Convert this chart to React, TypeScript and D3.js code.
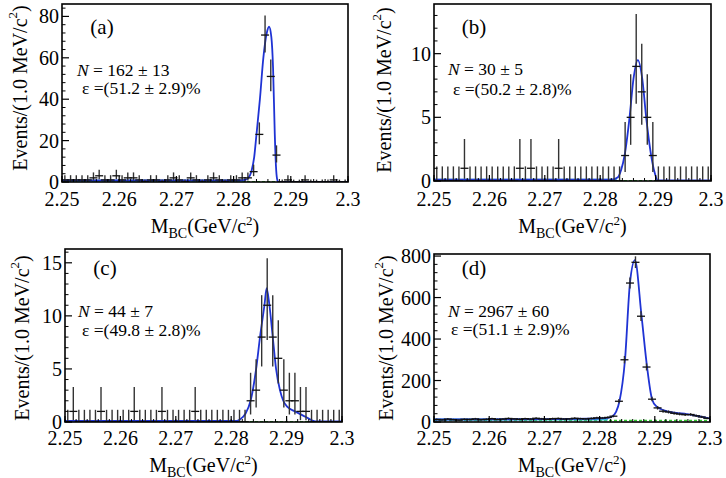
import React from "react";
import * as d3 from "d3";

// ---------------- data ----------------
const binStart = 2.25;
const binWidth = 0.001;
const xDomain = [2.25, 2.3];
const xTickValues = [2.25, 2.26, 2.27, 2.28, 2.29, 2.3];
const xTickLabels = ["2.25", "2.26", "2.27", "2.28", "2.29", "2.3"];

const countsA = [1, 1, 1, 1, 1, 2, 3, 1, 1, 3, 1, 2, 2, 1, 0, 1, 1, 0, 1, 2, 1, 0, 2, 1, 0, 1, 2, 1, 0, 1, 1, 2, 2, 5, 23, 71, 51, 13, 0, 1, 0, 0, 1, 0, 0, 0, 0, 1, 0, 0];
const countsB = [0, 0, 0, 0, 0, 1, 0, 0, 0, 0, 0, 0, 0, 0, 0, 1, 0, 1, 0, 0, 0, 0, 1, 0, 0, 0, 0, 0, 0, 0, 0, 0, 0, 0, 2, 5, 9, 7, 5, 2, 0, 0, 0, 0, 0, 0, 0, 0, 0, 0];
const countsC = [0, 1, 0, 0, 0, 0, 1, 0, 0, 0, 0, 0, 1, 0, 0, 0, 0, 1, 0, 0, 0, 0, 0, 1, 0, 0, 0, 0, 0, 0, 0, 0, 0, 2, 3, 8, 11, 8, 6, 3, 2, 2, 1, 1, 0, 0, 0, 0, 0, 0];
const countsD = [12, 10, 14, 11, 9, 13, 12, 15, 11, 13, 16, 12, 14, 17, 15, 13, 16, 14, 18, 15, 13, 16, 17, 14, 15, 18, 16, 15, 17, 20, 19, 22, 28, 100, 300, 670, 770, 510, 265, 110, 68, 52, 48, 42, 38, 35, 36, 30, 24, 18];

// fit curves
const fitAx = [2.25, 2.281, 2.282, 2.2825, 2.2831, 2.2836, 2.284, 2.2846, 2.2852, 2.2858, 2.2862, 2.2866, 2.2869, 2.2872, 2.2874, 2.2876, 2.2878, 2.3];
const fitAy = [0.8, 0.8, 1.0, 1.8, 5, 12, 23, 40, 60, 72, 75, 70, 55, 23, 8, 1.5, 0, 0];
const fitBx = [2.25, 2.282, 2.2832, 2.2838, 2.2844, 2.2853, 2.286, 2.2868, 2.2876, 2.2883, 2.2892, 2.2898, 2.2904, 2.3];
const fitBy = [0.1, 0.1, 0.3, 0.9, 2, 5, 8, 9.5, 8, 5, 2, 0.7, 0.05, 0.05];
const fitCx = [2.25, 2.281, 2.2816, 2.2826, 2.2835, 2.2845, 2.2852, 2.286, 2.2864, 2.2869, 2.2875, 2.2881, 2.2888, 2.2894, 2.2902, 2.2915, 2.2934, 2.2952, 2.3];
const fitCy = [0.1, 0.1, 0.25, 0.8, 2, 5, 8, 11, 12.6, 11, 8, 5, 3, 2, 1.4, 1.0, 0.5, 0.05, 0.05];
const fitDx = [2.25, 2.26, 2.27, 2.278, 2.2815, 2.2822, 2.283, 2.2836, 2.2846, 2.2855, 2.2864, 2.2876, 2.2886, 2.2895, 2.2903, 2.2918, 2.2936, 2.2958, 2.2976, 2.2994, 2.3];
const fitDy = [12, 13, 14, 16, 20, 25, 50, 100, 300, 670, 780, 510, 265, 110, 75, 55, 45, 38, 30, 20, 16];

const cyanLevels = [0.6, 0.1, 0.1, 12];
const cyanEnds = [2.2817, 2.283, 2.2815, 2.2815];
const greenLevels = [0.2, 0.03, 0.03, 7];

const panelLabels = ["(a)", "(b)", "(c)", "(d)"];
const yieldTexts = ["162 \u00b1 13", "30 \u00b1 5", "44 \u00b1 7", "2967 \u00b1 60"];
const effTexts = ["51.2 \u00b1 2.9", "50.2 \u00b1 2.8", "49.8 \u00b1 2.8", "51.1 \u00b1 2.9"];
const yTicksA = [0, 20, 40, 60, 80];
const yTicksB = [0, 5, 10];
const yTicksC = [0, 5, 10, 15];
const yTicksD = [0, 200, 400, 600, 800];
const yMaxes = [86, 13.9, 16.3, 810];
const yMinorSteps = [4, 1, 1, 40];

// RooFit-style Poisson 68% intervals for small counts
const poissonLo = [0, 0.173, 0.708, 1.367, 2.086, 2.84, 3.62, 4.419, 5.232, 6.057, 6.891, 7.734, 8.585, 9.441];
const poissonHi = [1.148, 3.3, 4.638, 5.918, 7.163, 8.382, 9.584, 10.77, 11.95, 13.11, 14.27, 15.42, 16.56, 17.7];

// ---------------- layout ----------------
const layouts = [
  { left: 62, right: 348, top: 4, bottom: 182, ytx: 20, yty: 88, xtb: 233, tickb: 206, labX: 102, labY: 34, nX: 77, nY: 76, eX: 82, eY: 94 },
  { left: 434, right: 711, top: 4, bottom: 181, ytx: 384, yty: 90, xtb: 233, tickb: 206, labX: 474, labY: 34, nX: 448, nY: 75, eX: 453, eY: 95 },
  { left: 65, right: 342, top: 249, bottom: 422, ytx: 22, yty: 338, xtb: 472, tickb: 445, labX: 105, labY: 275, nX: 78, nY: 317, eX: 82, eY: 336 },
  { left: 434, right: 710, top: 254, bottom: 422, ytx: 386, yty: 338, xtb: 472, tickb: 445, labX: 474, labY: 275, nX: 448, nY: 317, eX: 451, eY: 335 },
];

const FONT = "'Liberation Serif', 'Times New Roman', serif";

const panels = [
  { counts: countsA, fx: fitAx, fy: fitAy, yTicks: yTicksA },
  { counts: countsB, fx: fitBx, fy: fitBy, yTicks: yTicksB },
  { counts: countsC, fx: fitCx, fy: fitCy, yTicks: yTicksC },
  { counts: countsD, fx: fitDx, fy: fitDy, yTicks: yTicksD },
];

function errBand(n: number): [number, number] {
  if (n < poissonLo.length) return [poissonLo[n], poissonHi[n]];
  const s = Math.sqrt(n);
  return [n - s, n + s + 1];
}

function Panel({ i }: { i: number }) {
  const L = layouts[i];
  const P = panels[i];
  const yMax = yMaxes[i];
  const x = d3.scaleLinear().domain(xDomain).range([L.left, L.right]);
  const y = d3.scaleLinear().domain([0, yMax]).range([L.bottom, L.top]);
  const line = d3
    .line<[number, number]>()
    .x((d) => x(d[0]))
    .y((d) => y(d[1]))
    .curve(d3.curveMonotoneX);
  const fitPts: [number, number][] = P.fx.map((v, k) => [v, P.fy[k]]);
  const greenPts: [number, number][] = [
    [xDomain[0], greenLevels[i]],
    [xDomain[1], greenLevels[i]],
  ];
  const cyanPts: [number, number][] = [
    [xDomain[0], cyanLevels[i]],
    [cyanEnds[i], cyanLevels[i]],
  ];
  const yMinor = d3
    .range(0, yMax, yMinorSteps[i])
    .filter((v) => !P.yTicks.some((t) => Math.abs(t - v) < 1e-9));
  const xMinor = d3.range(0, 26).map((k) => 2.25 + k * 0.002);
  const clipId = `clip-${i}`;
  const cx = (L.left + L.right) / 2;

  return (
    <g>
      <defs>
        <clipPath id={clipId}>
          <rect x={L.left} y={L.top} width={L.right - L.left} height={L.bottom - L.top} />
        </clipPath>
      </defs>
      <g clipPath={`url(#${clipId})`}>
        <path d={line(greenPts) || ""} fill="none" stroke="#2ecc2e" strokeWidth={1.4} strokeDasharray="3,2" />
        <path d={line(cyanPts) || ""} fill="none" stroke="#3cb4dc" strokeWidth={1.8} />
        <path d={line(fitPts) || ""} fill="none" stroke="#1f33d4" strokeWidth={1.8} />
        {P.counts.map((n, k) => {
          const c = binStart + (k + 0.5) * binWidth;
          const [lo, hi] = errBand(n);
          const px = x(c);
          return (
            <g key={k}>
              <line x1={px} x2={px} y1={y(lo)} y2={y(hi)} stroke="#333" strokeWidth={1.4} />
              <line x1={px - 4} x2={px + 4} y1={y(n)} y2={y(n)} stroke="#111" strokeWidth={1.3} />
            </g>
          );
        })}
      </g>
      <rect x={L.left} y={L.top} width={L.right - L.left} height={L.bottom - L.top} fill="none" stroke="#000" strokeWidth={1.6} />
      {P.yTicks.map((t) => (
        <g key={`yt${t}`}>
          <line x1={L.left} x2={L.left + 7} y1={y(t)} y2={y(t)} stroke="#000" strokeWidth={1.2} />
          <text x={L.left - 3} y={y(t)} textAnchor="end" dominantBaseline="central" fontFamily={FONT} fontSize={20}>
            {t}
          </text>
        </g>
      ))}
      {yMinor.map((t) => (
        <line key={`ym${t}`} x1={L.left} x2={L.left + 3.5} y1={y(t)} y2={y(t)} stroke="#000" strokeWidth={1} />
      ))}
      {xTickValues.map((t, k) => (
        <g key={`xt${k}`}>
          <line x1={x(t)} x2={x(t)} y1={L.bottom} y2={L.bottom - 6} stroke="#000" strokeWidth={1.2} />
          <text x={x(t)} y={L.tickb} textAnchor="middle" fontFamily={FONT} fontSize={20}>
            {xTickLabels[k]}
          </text>
        </g>
      ))}
      {xMinor.map((t, k) => (
        <line key={`xm${k}`} x1={x(t)} x2={x(t)} y1={L.bottom} y2={L.bottom - 3} stroke="#000" strokeWidth={1} />
      ))}
      <text x={cx} y={L.xtb} textAnchor="middle" fontFamily={FONT} fontSize={20}>
        M
        <tspan fontSize={14} dy={5}>BC</tspan>
        <tspan dy={-5}>(GeV/c</tspan>
        <tspan fontSize={13} dy={-8}>2</tspan>
        <tspan dy={8}>)</tspan>
      </text>
      <text
        transform={`translate(${L.ytx},${L.yty}) rotate(-90)`}
        textAnchor="middle"
        dominantBaseline="central"
        fontFamily={FONT}
        fontSize={20}
      >
        Events/(1.0 MeV/c
        <tspan fontSize={13} dy={-8}>2</tspan>
        <tspan dy={8}>)</tspan>
      </text>
      <text x={L.labX} y={L.labY} textAnchor="middle" fontFamily={FONT} fontSize={21}>
        {panelLabels[i]}
      </text>
      <text x={L.nX} y={L.nY} fontFamily={FONT} fontSize={17.5}>
        <tspan fontStyle="italic">N</tspan>
        {" = " + yieldTexts[i]}
      </text>
      <text x={L.eX} y={L.eY} fontFamily={FONT} fontSize={17.5}>
        {"\u03b5 =(" + effTexts[i] + ")%"}
      </text>
    </g>
  );
}

export default function App() {
  return (
    <svg width={726} height={478} style={{ position: "absolute", left: 0, top: 0, background: "#fff" }}>
      <rect x={0} y={0} width={726} height={478} fill="#fff" />
      {[0, 1, 2, 3].map((i) => (
        <Panel key={i} i={i} />
      ))}
    </svg>
  );
}
